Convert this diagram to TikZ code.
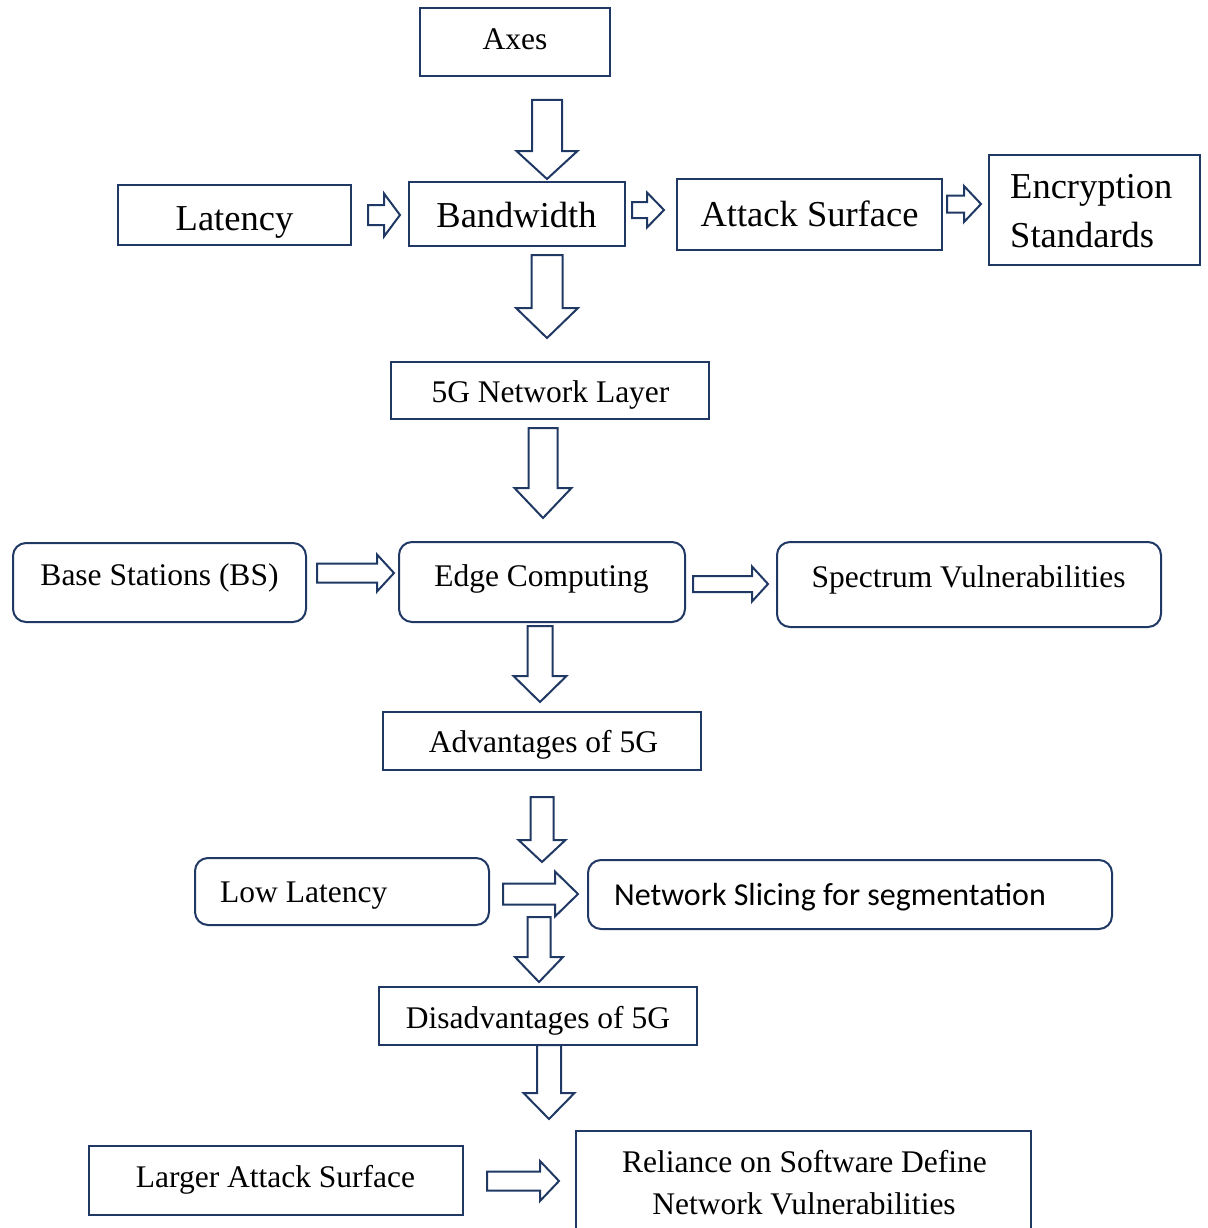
\documentclass[tikz,border=0pt]{standalone}
\usepackage{fontspec}
\setmainfont{Liberation Serif}
\newfontfamily\calfont{Carlito}
\definecolor{navy}{HTML}{203864}
\tikzset{
 boxs/.style={draw=navy, line width=2pt, fill=white, inner sep=0pt, outer sep=0pt},
 boxr/.style={boxs, rounded corners=13pt},
 bigtxt/.style={font=\fontsize{36.5}{44}\selectfont, inner sep=0pt, anchor=base},
 smalltxt/.style={font=\fontsize{31.5}{38}\selectfont, inner sep=0pt, anchor=base},
 caltxt/.style={font=\calfont\fontsize{32}{38}\selectfont, inner sep=0pt, anchor=base west},
 barrow/.style={draw=navy, line width=2pt, fill=white, line join=miter},
}
% block arrow pointing down: cx, top, tip, shaft half width, head half width, head start
\newcommand\blkdown[6]{%
 \draw[barrow] ({#1-#4},#2) -- ({#1+#4},#2) -- ({#1+#4},#6) -- ({#1+#5},#6) -- (#1,#3) -- ({#1-#5},#6) -- ({#1-#4},#6) -- cycle;}
% block arrow pointing right: cy, left, tip, shaft half width, head half width, head start
\newcommand\blkright[6]{%
 \draw[barrow] (#2,{#1-#4}) -- (#6,{#1-#4}) -- (#6,{#1-#5}) -- (#3,#1) -- (#6,{#1+#5}) -- (#6,{#1+#4}) -- (#2,{#1+#4}) -- cycle;}
\begin{document}
\begin{tikzpicture}[x=1pt,y=-1pt]
\useasboundingbox (0,0) rectangle (1207,1228);
% boxes
\node[boxs, minimum width=190pt, minimum height=68pt] (axes) at (515,42) {};
\node[boxs, minimum width=233pt, minimum height=60pt] (lat) at (234.5,215) {};
\node[boxs, minimum width=216pt, minimum height=64pt] (bw) at (517,214) {};
\node[boxs, minimum width=265pt, minimum height=71pt] (att) at (809.5,214.5) {};
\node[boxs, minimum width=211pt, minimum height=110pt] (enc) at (1094.5,210) {};
\node[boxs, minimum width=318pt, minimum height=57pt] (net) at (550,390.5) {};
\node[boxr, minimum width=293pt, minimum height=79pt] (bs) at (159.5,582.5) {};
\node[boxr, minimum width=286pt, minimum height=80pt] (edge) at (542,582) {};
\node[boxr, minimum width=384pt, minimum height=85pt] (spec) at (969,584.5) {};
\node[boxs, minimum width=318pt, minimum height=58pt] (adv) at (542,741) {};
\node[boxr, minimum width=294pt, minimum height=67pt] (low) at (342,891.5) {};
\node[boxr, minimum width=524pt, minimum height=69pt] (slice) at (850,894.5) {};
\node[boxs, minimum width=318pt, minimum height=58pt] (dis) at (538,1016) {};
\node[boxs, minimum width=374pt, minimum height=69pt] (larger) at (276,1180.5) {};
\node[boxs, minimum width=455pt, minimum height=114pt] (rel) at (803.5,1188) {};
% texts
\node[smalltxt] (taxes) at (515,50) {Axes};
\node[bigtxt] (tlat) at (234.5,230) {Latency};
\node[bigtxt] (tbw) at (516.5,227) {Bandwidth};
\node[bigtxt] (tatt) at (809.5,226) {Attack Surface};
\node[bigtxt, anchor=base west] (tenc1) at (1010,198) {Encryption};
\node[bigtxt, anchor=base west] (tenc2) at (1010,247) {Standards};
\node[smalltxt] (tnet) at (550.5,402) {5G Network Layer};
\node[smalltxt] (tbs) at (159.5,585) {Base Stations (BS)};
\node[smalltxt] (tedge) at (541.5,586) {Edge Computing};
\node[smalltxt] (tspec) at (968.5,587) {Spectrum Vulnerabilities};
\node[smalltxt] (tadv) at (543.5,752) {Advantages of 5G};
\node[smalltxt, anchor=base west] (tlow) at (220,902) {Low Latency};
\node[caltxt] (tslice) at (614,905) {Network Slicing for segmentation};
\node[smalltxt] (tdis) at (538,1028) {Disadvantages of 5G};
\node[smalltxt] (tlarger) at (275.5,1187) {Larger Attack Surface};
\node[smalltxt] (trel1) at (804.5,1172) {Reliance on Software Define};
\node[smalltxt] (trel2) at (804,1214) {Network Vulnerabilities};
% block arrows down
\blkdown{547}{100}{179}{15}{30.5}{151}
\blkdown{547}{255}{338}{15.5}{31}{308}
\blkdown{543}{428}{518}{14.5}{28.5}{488}
\blkdown{540}{626}{702}{12.5}{26.5}{676}
\blkdown{542}{797}{862}{11.5}{23.5}{840}
\blkdown{539}{917}{982}{11.5}{24}{957}
\blkdown{549}{1045}{1119}{12}{25.5}{1093}
% block arrows right
\blkright{215}{368}{400}{10}{21.5}{384}
\blkright{210}{632}{664}{8}{17.5}{647}
\blkright{204}{947}{981}{8.5}{18}{964}
\blkright{573}{317}{394}{9.5}{18.5}{377}
\blkright{584}{693}{768}{8}{17.5}{752}
\blkright{894}{503}{578}{10.5}{22.5}{555}
\blkright{1181}{487}{559}{9.5}{20}{540}
\end{tikzpicture}
\end{document}
